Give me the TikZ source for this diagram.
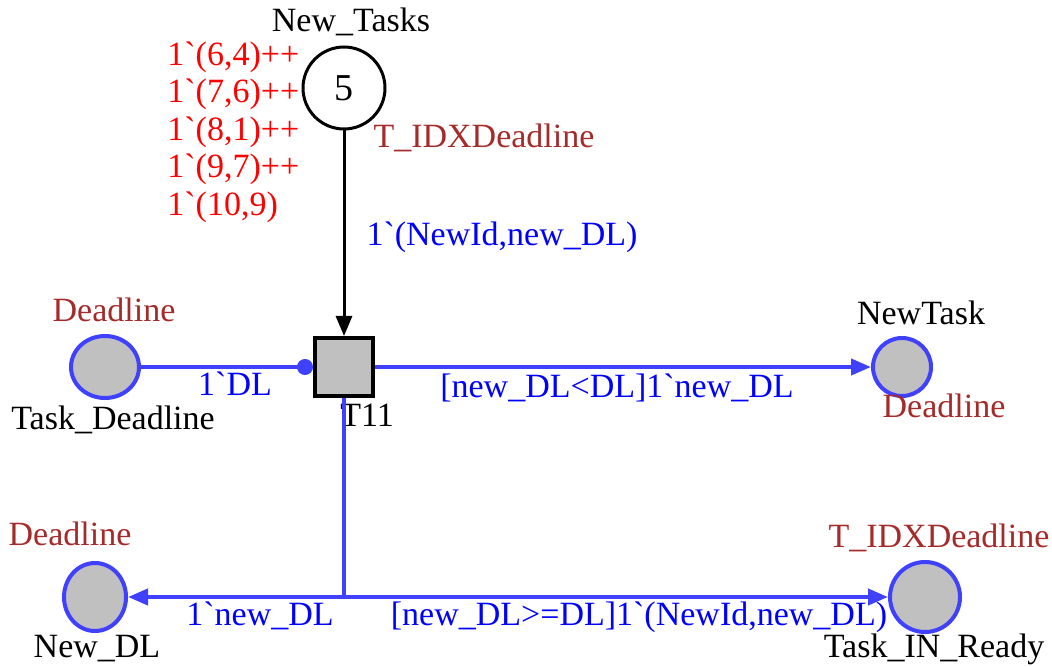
\documentclass[tikz,border=0pt]{standalone}
\usepackage{fontspec}
\setmainfont{Liberation Serif}
\usetikzlibrary{arrows.meta,shapes.geometric}

\definecolor{arcblue}{RGB}{64,64,255}
\definecolor{inscblue}{RGB}{0,0,255}
\definecolor{typebrown}{RGB}{165,42,42}
\definecolor{placegray}{RGB}{192,192,192}

\begin{document}
\begin{tikzpicture}[x=0.5pt,y=-0.5pt]

    % Define styles
    \tikzset{
        cpn text/.style={font=\fontsize{17}{18.75}\selectfont, inner sep=0pt, anchor=base},
        place name/.style={cpn text, text=black},
        colour set/.style={cpn text, text=typebrown},
        inscription/.style={cpn text, text=inscblue},
        init marking/.style={cpn text, text=red},
        place/.style={ellipse, draw=arcblue, line width=2pt, fill=placegray, inner sep=0pt},
        trans/.style={rectangle, draw=black, line width=2pt, fill=placegray, minimum size=29pt, inner sep=0pt},
        arc/.style={draw=arcblue, line width=2pt},
        arc head/.style={arc, -{Triangle[length=10pt,width=8pt]}}
    }

    % Fix the page size
    \useasboundingbox (0,0) rectangle (1052,667);

    % Places and the transition
    \node[place, draw=black, fill=white, line width=1.5pt, minimum width=41pt, minimum height=41pt] (NewTasks) at (344,88) {\fontsize{19}{20}\selectfont 5};
    \node[trans] (T11) at (344,367) {};
    \node[place, minimum width=34pt, minimum height=31pt] (TaskDeadline) at (105,367) {};
    \node[place, minimum width=29pt, minimum height=29pt] (NewTask) at (902,367) {};
    \node[place, minimum width=31pt, minimum height=34pt] (NewDL) at (95,597) {};
    \node[place, minimum width=35pt, minimum height=35pt] (TaskINReady) at (925,597) {};

    % Place names
    \node[place name] (NewTasks-name) at (351,32) {New\_Tasks};
    \node[place name] (TaskDeadline-name) at (113,429) {Task\_Deadline};
    \node[place name] (NewTask-name) at (921,325) {NewTask};
    \node[place name] (NewDL-name) at (97,657) {New\_DL};
    \node[place name] (TaskINReady-name) at (934,657) {Task\_IN\_Ready};
    \node[place name] (T11-name) at (367,426) {T11};

    % Colour sets
    \node[colour set] (NewTasks-type) at (484,148) {T\_IDXDeadline};
    \node[colour set] (TaskDeadline-type) at (114,322) {Deadline};
    \node[colour set] (NewTask-type) at (944,417) {Deadline};
    \node[colour set] (NewDL-type) at (70,545) {Deadline};
    \node[colour set] (TaskINReady-type) at (939,547) {T\_IDXDeadline};

    % Initial marking
    \node[init marking, anchor=north west, align=left] (NewTasks-init) at (167,41) {%
        1\textasciigrave(6,4)++\\
        1\textasciigrave(7,6)++\\
        1\textasciigrave(8,1)++\\
        1\textasciigrave(9,7)++\\
        1\textasciigrave(10,9)};

    % Arcs
    \coordinate (split) at (344,597);
    \draw[arc head, draw=black, line width=1.5pt] (NewTasks) -- (T11);
    \draw[arc, -{Circle[length=8pt]}] (TaskDeadline) -- (T11);
    \draw[arc head] (T11) -- (NewTask);
    \draw[arc] (T11) -- (split);
    \draw[arc head] (split) -- (NewDL);
    \draw[arc head] (split) -- (TaskINReady);

    % Arc inscriptions
    \node[inscription] (insc-new) at (502,246) {1\textasciigrave(NewId,new\_DL)};
    \node[inscription] (insc-dl) at (235,395) {1\textasciigrave DL};
    \node[inscription] (insc-newtask) at (617,397) {[new\_DL<DL]1\textasciigrave new\_DL};
    \node[inscription] (insc-newdl) at (260,625) {1\textasciigrave new\_DL};
    \node[inscription] (insc-ready) at (639,625) {[new\_DL>=DL]1\textasciigrave(NewId,new\_DL)};

\end{tikzpicture}
\end{document}
